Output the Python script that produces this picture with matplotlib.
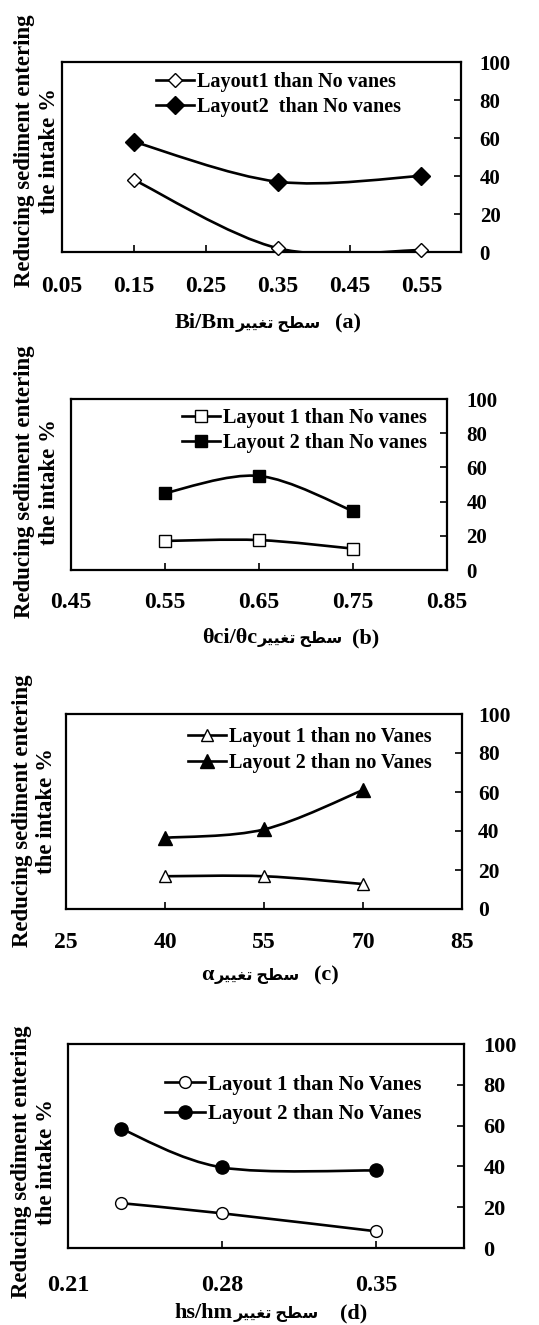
"""Four stacked panels: reduction of sediment entering the intake vs. vane parameters."""
import matplotlib
matplotlib.use("Agg")
import matplotlib.pyplot as plt
from matplotlib.lines import Line2D
from matplotlib.patches import PathPatch
from matplotlib.path import Path

W, H = 539, 1325
FONT = ["Liberation Serif", "DejaVu Sans"]
plt.rcParams["font.family"] = FONT
plt.rcParams["font.weight"] = "bold"

# "سطح تغییر" as pre-shaped presentation forms, visual (left-to-right) order
FA_LEVEL = "\uFEAE\uFEF4\uFEF4\uFED0\uFE97 \uFEA2\uFEC4\uFEB3"

YLABEL_LINES = ["Reducing sediment entering", "the intake %"]
Y_TICKS = [0, 20, 40, 60, 80, 100]

# (a) Bi/Bm
A_X = [0.15, 0.35, 0.55]
A_L1 = [38, 2, 1]
A_L2 = [58, 37, 40]
A_TICKS = [0.05, 0.15, 0.25, 0.35, 0.45, 0.55]
A_TICKLABELS = ["0.05", "0.15", "0.25", "0.35", "0.45", "0.55"]
A_NAMES = ["Layout1 than No vanes", "Layout2  than No vanes"]

# (b) θci/θc
B_X = [0.55, 0.65, 0.75]
B_L1 = [17, 17.5, 12.5]
B_L2 = [45, 55, 34.5]
B_TICKS = [0.45, 0.55, 0.65, 0.75, 0.85]
B_TICKLABELS = ["0.45", "0.55", "0.65", "0.75", "0.85"]
B_NAMES = ["Layout 1 than No vanes", "Layout 2 than No vanes"]

# (c) α
C_X = [40, 55, 70]
C_L1 = [16.8, 16.8, 12.8]
C_L2 = [36.5, 40.8, 61]
C_TICKS = [25, 40, 55, 70, 85]
C_TICKLABELS = ["25", "40", "55", "70", "85"]
C_NAMES = ["Layout 1 than no Vanes", "Layout 2 than no Vanes"]

# (d) hs/hm
D_X = [0.234, 0.28, 0.35]
D_L1 = [22, 17, 8.2]
D_L2 = [58.5, 39.5, 38]
D_TICKS = [0.21, 0.28, 0.35]
D_TICKLABELS = ["0.21", "0.28", "0.35"]
D_NAMES = ["Layout 1 than No Vanes", "Layout 2 than No Vanes"]


def smooth_path(x, y):
    # Excel-style smoothed line: cubic Bezier segments through the points
    pts = list(zip(x, y))
    n = len(pts)
    verts, codes = [pts[0]], [Path.MOVETO]
    for i in range(n - 1):
        p0 = pts[max(i - 1, 0)]
        p1, p2 = pts[i], pts[i + 1]
        p3 = pts[min(i + 2, n - 1)]
        c1 = (p1[0] + (p2[0] - p0[0]) / 6, p1[1] + (p2[1] - p0[1]) / 6)
        c2 = (p2[0] - (p3[0] - p1[0]) / 6, p2[1] - (p3[1] - p1[1]) / 6)
        verts += [c1, c2, p2]
        codes += [Path.CURVE4] * 3
    return Path(verts, codes)


def ptext(fig, px, py, s, **kw):
    kw.setdefault("fontweight", "bold")
    kw.setdefault("family", FONT)
    return fig.text(px / W, 1 - py / H, s, **kw)


def panel(fig, box, x, l1, l2, ticks, ticklabels, xlim, names, marker, msizes,
          leg_anchor, leg_fs, leg_space, xfs, yfs, xlabel, letter, xlabel_px,
          ylabel_xs, ylabel_y, xpad, ypad):
    left, top, right, bottom = box
    ax = fig.add_axes([left / W, 1 - bottom / H, (right - left) / W, (bottom - top) / H])
    ax.set_xlim(*xlim)
    ax.set_ylim(0, 100)
    for s in ax.spines.values():
        s.set_linewidth(1.6)

    handles = []
    for ys, face, ms in [(l1, "white", msizes[0]), (l2, "black", msizes[1])]:
        ax.add_patch(PathPatch(smooth_path(x, ys), fill=False, lw=1.9,
                               edgecolor="black", zorder=2))
        ax.plot(x, ys, ls="none", marker=marker, ms=ms, mfc=face, mec="black",
                mew=1.0, zorder=3, clip_on=False)
        handles.append(Line2D([], [], color="black", lw=1.9, marker=marker, ms=ms,
                              mfc=face, mec="black", mew=1.0))

    ax.set_xticks(ticks)
    ax.set_xticklabels(ticklabels)
    ax.set_yticks(Y_TICKS)
    ax.tick_params(axis="x", direction="in", length=5, width=1.2, pad=xpad,
                   labelsize=xfs, top=False)
    ax.tick_params(axis="y", direction="in", length=5, width=1.2, pad=ypad,
                   labelsize=yfs, left=False, labelleft=False, right=True, labelright=True)

    ax.legend(handles, names, loc="upper left", bbox_to_anchor=leg_anchor,
              frameon=False, handlelength=1.9, handletextpad=0.15, labelspacing=leg_space,
              borderpad=0, borderaxespad=0,
              prop=dict(family=FONT, weight="bold", size=leg_fs))

    # x label: variable name, Persian "level of change", panel letter
    split, letter_x, ly = xlabel_px
    ptext(fig, split, ly, xlabel, ha="right", va="center", fontsize=16)
    ptext(fig, split + 1, ly + 1, FA_LEVEL, ha="left", va="center", fontsize=11.5)
    ptext(fig, letter_x, ly, letter, ha="center", va="center", fontsize=16)

    for lx, line in zip(ylabel_xs, YLABEL_LINES):
        ptext(fig, lx, ylabel_y, line, rotation=90, ha="center", va="center",
              fontsize=16.5)
    return ax


fig = plt.figure(figsize=(W / 100, H / 100), dpi=100)
fig.patch.set_facecolor("white")

panel(fig, (62, 62, 461, 252), A_X, A_L1, A_L2, A_TICKS, A_TICKLABELS, (0.05, 0.605),
      A_NAMES, "D", (7.5, 9), (0.236, 0.945), 14.5, 0.24, 17, 15,
      "Bi/Bm", "(a)", (235, 348, 323), (25, 50), 151, 17, 13.5)

panel(fig, (71, 399, 447, 570), B_X, B_L1, B_L2, B_TICKS, B_TICKLABELS, (0.45, 0.85),
      B_NAMES, "s", (8, 9), (0.295, 0.947), 14.5, 0.24, 17, 15,
      "\u03b8ci/\u03b8c", "(b)", (257, 366, 638), (25, 50), 482, 16, 14)

panel(fig, (66, 714, 462, 909), C_X, C_L1, C_L2, C_TICKS, C_TICKLABELS, (25, 85),
      C_NAMES, "^", (9, 10), (0.308, 0.935), 14.5, 0.32, 17, 15.5,
      "\u03b1", "(c)", (214, 326, 975), (23, 47), 811, 16.5, 11.5)

panel(fig, (68, 1044, 464, 1248), D_X, D_L1, D_L2, D_TICKS, D_TICKLABELS, (0.21, 0.39),
      D_NAMES, "o", (8.5, 9.5), (0.245, 0.85), 15, 0.47, 17.5, 16,
      "hs/hm", "(d)", (233, 354, 1313), (22, 47), 1162, 19.5, 14)

fig.savefig("out.png", dpi=100)
